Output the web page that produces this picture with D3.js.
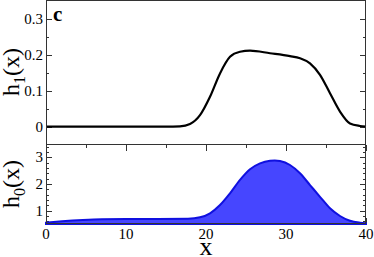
<!DOCTYPE html>
<html>
<head>
<meta charset="utf-8">
<script src="https://cdn.jsdelivr.net/npm/d3@7"></script>
</head>
<body style="margin:0">
<svg id="chart" width="374" height="257"></svg>
<script>
// h1(x)
const h1X = [0, 5, 10, 15, 16.75, 18, 19.25, 20.5, 21.75, 23, 24.25, 25.5, 28, 30.5, 31.75, 33, 34.25, 35.5, 36.75, 38, 39.25, 40];
const h1Y = [0, 0, 0, 0, 0.001, 0.0075, 0.032, 0.083, 0.148, 0.194, 0.208, 0.211, 0.204, 0.196, 0.19, 0.176, 0.144, 0.093, 0.042, 0.009, 0.002, 0];

// h0(x)
const h0X = [0, 2, 4.6, 7, 10, 14, 17.75, 19.25, 20.5, 21.75, 23, 24.25, 25.5, 26.75, 28, 28.6, 29.25, 30.5, 31.75, 33, 34.25, 35.5, 36.75, 38, 39.25, 40];
const h0Y = [0.55, 0.6, 0.65, 0.68, 0.69, 0.69, 0.7, 0.75, 0.9, 1.21, 1.65, 2.15, 2.55, 2.77, 2.87, 2.88, 2.86, 2.71, 2.4, 1.96, 1.52, 1.09, 0.8, 0.62, 0.55, 0.53];

const xTicks = [0, 10, 20, 30, 40];
const h1Ticks = [0, 0.1, 0.2, 0.3];
const h0Ticks = [1, 2, 3];

const svg = d3.select("#chart");
const left = 46, right = 366;
const top1 = 1, bot1 = 145, bot2 = 224;
const frameColor = "#333";

const x = d3.scaleLinear().domain([0, 40]).range([left, right]);
const y1 = d3.scaleLinear().domain([-0.0508, 0.349]).range([bot1, top1]);
const y2 = d3.scaleLinear().domain([0.5, 3.46]).range([bot2, bot1]);

function ticks(g, scale, values, side, len, pos) {
  values.forEach(v => {
    const p = Math.round(scale(v)) + 0.5;
    if (side === "left") g.append("line").attr("x1", pos).attr("x2", pos + len).attr("y1", p).attr("y2", p);
    if (side === "right") g.append("line").attr("x1", pos).attr("x2", pos - len).attr("y1", p).attr("y2", p);
    if (side === "bottom") g.append("line").attr("x1", p).attr("x2", p).attr("y1", pos).attr("y2", pos - len);
    if (side === "top") g.append("line").attr("x1", p).attr("x2", p).attr("y1", pos).attr("y2", pos + len);
  });
}

const tg = svg.append("g").attr("stroke", frameColor).attr("stroke-width", 1);

// upper panel y ticks
const h1Minor = d3.range(0.05, 0.35, 0.1);
ticks(tg, y1, h1Ticks, "left", 6, left);
ticks(tg, y1, h1Minor, "left", 3, left);
ticks(tg, y1, h1Ticks, "right", 6, right);
ticks(tg, y1, h1Minor, "right", 3, right);

// lower panel
const h0Minor = d3.range(0.6, 3.45, 0.2).filter(v => Math.abs(v - Math.round(v)) > 0.05);
ticks(tg, y2, h0Ticks, "left", 6, left);
ticks(tg, y2, h0Minor, "left", 3, left);
ticks(tg, y2, h0Ticks, "right", 6, right);
ticks(tg, y2, h0Minor, "right", 3, right);
const xMinor = [5, 15, 25, 35];
ticks(tg, x, xTicks, "bottom", 6, bot2);
ticks(tg, x, xMinor, "bottom", 3, bot2);
ticks(tg, x, xTicks, "top", 6, bot1);
ticks(tg, x, xMinor, "top", 3, bot1);

// h0 area
const pts0 = h0X.map((d, i) => [d, h0Y[i]]);
svg.append("path")
  .datum(pts0)
  .attr("fill", "#4646ff")
  .attr("stroke", "#1010e0")
  .attr("stroke-width", 2)
  .attr("d", d3.area().x(d => x(d[0])).y0(y2(0.5)).y1(d => y2(d[1])).curve(d3.curveMonotoneX));

// h1 line
const pts1 = h1X.map((d, i) => [d, h1Y[i]]);
svg.append("path")
  .datum(pts1)
  .attr("fill", "none")
  .attr("stroke", "#000")
  .attr("stroke-width", 2.2)
  .attr("d", d3.line().x(d => x(d[0])).y(d => y1(d[1])).curve(d3.curveMonotoneX));

// frames
svg.append("rect").attr("x", left + 0.5).attr("y", top1 - 0.5).attr("width", right - left - 1).attr("height", bot1 - top1)
  .attr("fill", "none").attr("stroke", frameColor);
svg.append("rect").attr("x", left + 0.5).attr("y", bot1 - 0.5).attr("width", right - left - 1).attr("height", bot2 - bot1)
  .attr("fill", "none").attr("stroke", frameColor);

// tick labels
const fs = 15;
svg.append("g").selectAll("text").data(h1Ticks).join("text")
  .attr("x", left - 3).attr("y", d => y1(d) + 5)
  .attr("text-anchor", "end").attr("font-size", fs)
  .text(d => d === 0 ? "0" : d3.format(".1f")(d));
svg.append("g").selectAll("text").data(h0Ticks).join("text")
  .attr("x", left - 3).attr("y", d => y2(d) + 5)
  .attr("text-anchor", "end").attr("font-size", fs)
  .text(d => d);
svg.append("g").selectAll("text").data(xTicks).join("text")
  .attr("x", d => x(d)).attr("y", bot2 + 15)
  .attr("text-anchor", "middle").attr("font-size", fs)
  .text(d => d);

// axis titles
function yTitle(cx, cy, sub) {
  const t = svg.append("text")
    .attr("transform", `translate(${cx},${cy}) rotate(-90)`)
    .attr("text-anchor", "middle").attr("font-size", 24);
  t.append("tspan").text("h");
  t.append("tspan").attr("font-size", 16).attr("dy", 6).text(sub);
  t.append("tspan").attr("dy", -6).text("(x)");
}
yTitle(19, 72, "1");
yTitle(19, 184, "0");

svg.append("text").attr("x", x(20)).attr("y", 255)
  .attr("text-anchor", "middle").attr("font-size", 26).text("x");

svg.append("text").attr("x", 53).attr("y", 21)
  .attr("font-size", 21).attr("font-weight", "bold").text("c");

svg.selectAll("text, tspan").style("font-family", '"Liberation Serif", monospace', "important");
</script>
</body>
</html>
